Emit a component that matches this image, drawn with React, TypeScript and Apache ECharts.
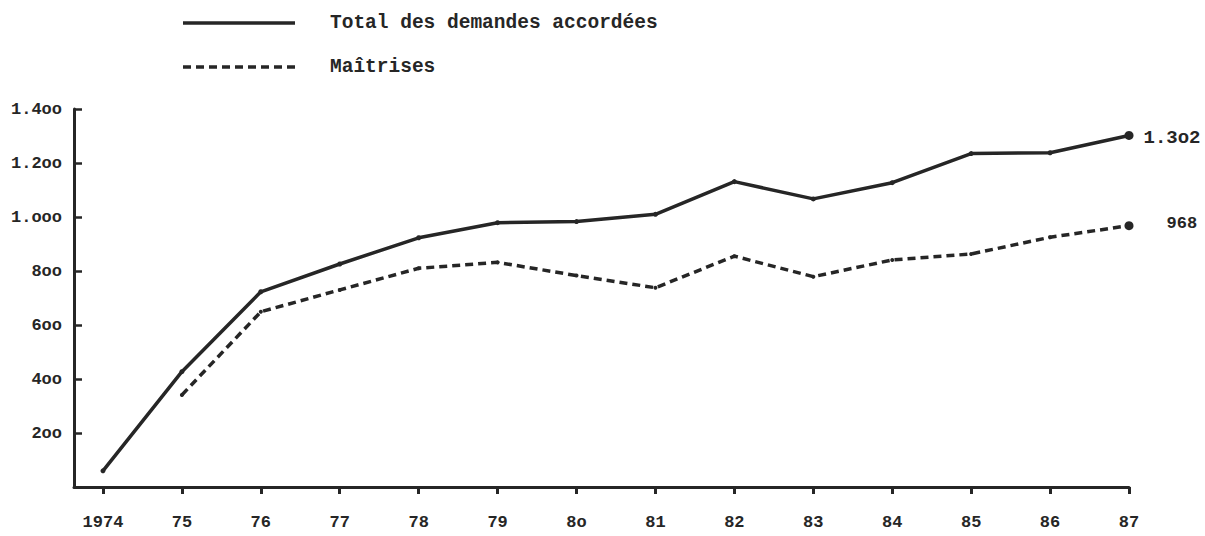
import React, { useEffect, useRef } from "react";
import * as echarts from "echarts";

const years = [1974, 1975, 1976, 1977, 1978, 1979, 1980, 1981, 1982, 1983, 1984, 1985, 1986, 1987];
const yearLabels = ["1974", "75", "76", "77", "78", "79", "8o", "81", "82", "83", "84", "85", "86", "87"];
const totalDemandes = [60, 427, 723, 826, 923, 979, 983, 1010, 1131, 1067, 1127, 1235, 1238, 1302];
const maitrises = [null, 341, 649, 730, 810, 832, 783, 738, 855, 779, 841, 863, 925, 968];
const yTickLabels: Record<number, string> = {
  0: "",
  200: "2oo",
  400: "4oo",
  600: "6oo",
  800: "8oo",
  1000: "1.ooo",
  1200: "1.2oo",
  1400: "1.4oo",
};
const seriesNames = ["Total des demandes accordées", "Maîtrises"];
const endLabels = ["1.3o2", "968"];

const FONT = "'Liberation Mono', 'DejaVu Sans Mono', monospace";
const INK = "#262626";

export default function App() {
  const ref = useRef<HTMLDivElement>(null);
  useEffect(() => {
    if (!ref.current) return;
    const chart = echarts.init(ref.current, undefined, { renderer: "svg" });
    const last = years.length - 1;
    const mkData = (arr: (number | null)[], label: string, dist: number, off: number[], fs: number) =>
      arr.map((v, i) => {
        const point: any = { value: [years[i], v] };
        if (i === last) {
          point.symbolSize = 9;
          point.label = {
            show: true,
            position: "right",
            distance: dist,
            offset: off,
            formatter: label,
            fontFamily: FONT,
            fontWeight: "bold",
            fontSize: fs,
            color: INK,
          };
        }
        return point;
      });
    chart.setOption({
      animation: false,
      backgroundColor: "#ffffff",
      grid: { left: 74, right: 76, top: 109, bottom: 49 },
      xAxis: {
        type: "value",
        min: 1973.633,
        max: 1987,
        splitLine: { show: false },
        axisLine: { show: true, onZero: false, lineStyle: { color: INK, width: 3 } },
        axisTick: {
          show: true,
          customValues: years,
          length: 7,
          lineStyle: { color: INK, width: 3 },
        },
        axisLabel: {
          show: true,
          customValues: years,
          margin: 27,
          formatter: (v: number) => yearLabels[years.indexOf(Math.round(v))] ?? "",
          fontFamily: FONT,
          fontWeight: "bold",
          fontSize: 17,
          color: INK,
        },
      },
      yAxis: {
        type: "value",
        min: 0,
        max: 1400,
        interval: 200,
        splitLine: { show: false },
        axisLine: { show: true, lineStyle: { color: INK, width: 3 } },
        axisTick: { show: true, inside: true, length: 8, lineStyle: { color: INK, width: 2.5 } },
        axisLabel: {
          margin: 12,
          formatter: (v: number) => yTickLabels[v] ?? "",
          fontFamily: FONT,
          fontWeight: "bold",
          fontSize: 17,
          color: INK,
        },
      },
      series: [
        {
          name: seriesNames[0],
          type: "line",
          data: mkData(totalDemandes, endLabels[0], 10, [0, 3], 19),
          symbol: "circle",
          symbolSize: 5,
          itemStyle: { color: INK },
          lineStyle: { color: INK, width: 3.5 },
        },
        {
          name: seriesNames[1],
          type: "line",
          data: mkData(maitrises, endLabels[1], 33, [0, -2], 17),
          connectNulls: false,
          symbol: "circle",
          symbolSize: 4,
          itemStyle: { color: INK },
          lineStyle: { color: INK, width: 3.5, type: [8, 5] },
        },
      ],
      graphic: [
        {
          type: "line",
          shape: { x1: 183, y1: 23, x2: 295, y2: 23 },
          style: { stroke: INK, lineWidth: 3.5 },
        },
        {
          type: "text",
          left: 330,
          top: 13,
          style: {
            text: seriesNames[0],
            font: `bold 19.5px ${FONT}`,
            fill: INK,
          },
        },
        {
          type: "line",
          shape: { x1: 183, y1: 67, x2: 297, y2: 67 },
          style: { stroke: INK, lineWidth: 3.5, lineDash: [8, 5] },
        },
        {
          type: "text",
          left: 330,
          top: 57,
          style: {
            text: seriesNames[1],
            font: `bold 19.5px ${FONT}`,
            fill: INK,
          },
        },
      ],
    });
    return () => chart.dispose();
  }, []);
  return (
    <div
      ref={ref}
      style={{ position: "fixed", left: 0, top: 0, width: 1205, height: 536, background: "#fff" }}
    />
  );
}
